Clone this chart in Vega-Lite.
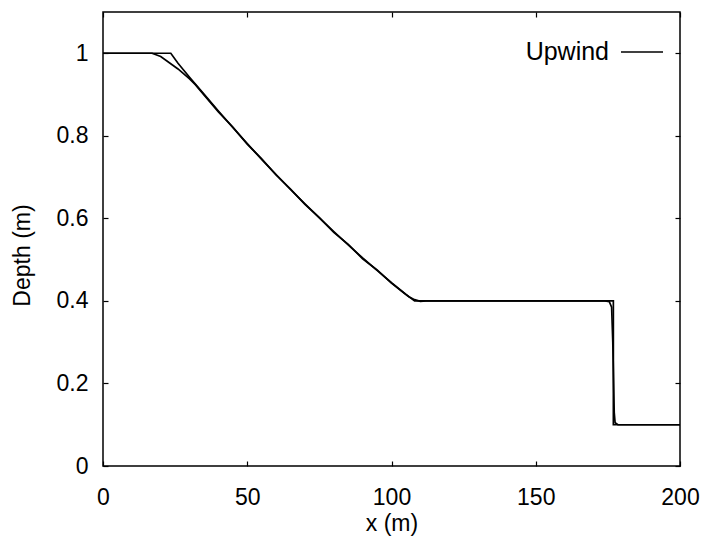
{
  "$schema": "https://vega.github.io/schema/vega-lite/v6.json",
  "autosize": {"type": "none"},
  "padding": {"left": 103, "top": 12, "right": 22, "bottom": 82},
  "width": 577,
  "height": 454,
  "background": "white",
  "config": {
    "view": {"stroke": "black", "strokeWidth": 1.5},
    "axis": {
      "domain": false,
      "grid": false,
      "tickColor": "black",
      "tickWidth": 1.2,
      "tickSize": -5,
      "labelFlush": false,
      "labelFont": "Liberation Sans",
      "labelFontSize": 23,
      "labelColor": "black",
      "titleFont": "Liberation Sans",
      "titleFontSize": 23,
      "titleFontWeight": "normal",
      "titleColor": "black"
    },
    "legend": {
      "labelFont": "Liberation Sans",
      "labelFontSize": 25,
      "labelColor": "black"
    }
  },
  "datasets": {
    "exact": [
      {"i": 0, "x": 0, "h": 1},
      {"i": 1, "x": 23.5, "h": 1},
      {"i": 2, "x": 26, "h": 0.976},
      {"i": 3, "x": 30, "h": 0.942},
      {"i": 4, "x": 35, "h": 0.901},
      {"i": 5, "x": 40, "h": 0.86},
      {"i": 6, "x": 45, "h": 0.82},
      {"i": 7, "x": 50, "h": 0.781},
      {"i": 8, "x": 55, "h": 0.743},
      {"i": 9, "x": 60, "h": 0.706},
      {"i": 10, "x": 65, "h": 0.67},
      {"i": 11, "x": 70, "h": 0.635},
      {"i": 12, "x": 75, "h": 0.601},
      {"i": 13, "x": 80, "h": 0.568},
      {"i": 14, "x": 85, "h": 0.536},
      {"i": 15, "x": 90, "h": 0.504},
      {"i": 16, "x": 95, "h": 0.474},
      {"i": 17, "x": 100, "h": 0.444},
      {"i": 18, "x": 105, "h": 0.416},
      {"i": 19, "x": 108, "h": 0.4},
      {"i": 20, "x": 176.9, "h": 0.4},
      {"i": 21, "x": 176.9, "h": 0.1},
      {"i": 22, "x": 200, "h": 0.1}
    ],
    "upwind": [
      {"i": 0, "x": 0, "h": 1, "series": "Upwind"},
      {"i": 1, "x": 17, "h": 1, "series": "Upwind"},
      {"i": 2, "x": 20, "h": 0.992, "series": "Upwind"},
      {"i": 3, "x": 23, "h": 0.977, "series": "Upwind"},
      {"i": 4, "x": 26, "h": 0.962, "series": "Upwind"},
      {"i": 5, "x": 28, "h": 0.95, "series": "Upwind"},
      {"i": 6, "x": 30, "h": 0.938, "series": "Upwind"},
      {"i": 7, "x": 32, "h": 0.924, "series": "Upwind"},
      {"i": 8, "x": 35, "h": 0.899, "series": "Upwind"},
      {"i": 9, "x": 40, "h": 0.858, "series": "Upwind"},
      {"i": 10, "x": 45, "h": 0.821, "series": "Upwind"},
      {"i": 11, "x": 50, "h": 0.78, "series": "Upwind"},
      {"i": 12, "x": 55, "h": 0.744, "series": "Upwind"},
      {"i": 13, "x": 60, "h": 0.705, "series": "Upwind"},
      {"i": 14, "x": 65, "h": 0.671, "series": "Upwind"},
      {"i": 15, "x": 70, "h": 0.634, "series": "Upwind"},
      {"i": 16, "x": 75, "h": 0.602, "series": "Upwind"},
      {"i": 17, "x": 80, "h": 0.566, "series": "Upwind"},
      {"i": 18, "x": 85, "h": 0.537, "series": "Upwind"},
      {"i": 19, "x": 90, "h": 0.502, "series": "Upwind"},
      {"i": 20, "x": 95, "h": 0.475, "series": "Upwind"},
      {"i": 21, "x": 100, "h": 0.443, "series": "Upwind"},
      {"i": 22, "x": 104, "h": 0.421, "series": "Upwind"},
      {"i": 23, "x": 106, "h": 0.41, "series": "Upwind"},
      {"i": 24, "x": 108, "h": 0.403, "series": "Upwind"},
      {"i": 25, "x": 110, "h": 0.399, "series": "Upwind"},
      {"i": 26, "x": 112, "h": 0.4, "series": "Upwind"},
      {"i": 27, "x": 174, "h": 0.4, "series": "Upwind"},
      {"i": 28, "x": 175.5, "h": 0.398, "series": "Upwind"},
      {"i": 29, "x": 176.3, "h": 0.385, "series": "Upwind"},
      {"i": 30, "x": 176.7, "h": 0.3, "series": "Upwind"},
      {"i": 31, "x": 177, "h": 0.2, "series": "Upwind"},
      {"i": 32, "x": 177.2, "h": 0.13, "series": "Upwind"},
      {"i": 33, "x": 177.5, "h": 0.105, "series": "Upwind"},
      {"i": 34, "x": 178.5, "h": 0.1, "series": "Upwind"},
      {"i": 35, "x": 200, "h": 0.1, "series": "Upwind"}
    ]
  },
  "layer": [
    {
      "data": {"name": "exact"},
      "mark": {"type": "line", "color": "black", "strokeWidth": 1.7},
      "encoding": {
        "x": {
          "field": "x", "type": "quantitative",
          "scale": {"domain": [0, 200], "nice": false},
          "axis": {"values": [0, 50, 100, 150, 200], "format": "d", "labelPadding": 25, "title": "x (m)", "titleY": 46, "titleBaseline": "top"}
        },
        "y": {
          "field": "h", "type": "quantitative",
          "scale": {"domain": [0, 1.1], "nice": false, "zero": false},
          "axis": {"values": [0, 0.2, 0.4, 0.6, 0.8, 1], "format": "~g", "labelPadding": 20, "title": "Depth (m)", "titleX": -81, "titleY": 243, "titleBaseline": "middle", "titleAngle": -90}
        },
        "order": {"field": "i", "type": "quantitative"}
      }
    },
    {
      "data": {"name": "upwind"},
      "mark": {"type": "line", "strokeWidth": 1.7},
      "encoding": {
        "x": {"field": "x", "type": "quantitative", "axis": null},
        "y": {"field": "h", "type": "quantitative", "axis": null},
        "order": {"field": "i", "type": "quantitative"},
        "color": {
          "field": "series", "type": "nominal",
          "scale": {"range": ["black"]},
          "legend": {
            "title": null,
            "orient": "none",
            "legendX": 517,
            "legendY": 18,
            "padding": 0,
            "symbolType": "stroke",
            "symbolSize": 1764,
            "symbolStrokeWidth": 1.5,
            "symbolStrokeColor": "black",
            "labelAlign": "right",
            "labelOffset": -55
          }
        }
      }
    },
    {
      "data": {"name": "exact"},
      "mark": {"type": "line", "opacity": 0},
      "encoding": {
        "x": {"field": "x", "type": "quantitative", "axis": {"orient": "top", "values": [0, 50, 100, 150, 200], "labels": false, "title": null}},
        "y": {"field": "h", "type": "quantitative", "axis": {"orient": "right", "values": [0, 0.2, 0.4, 0.6, 0.8, 1], "labels": false, "title": null}},
        "order": {"field": "i", "type": "quantitative"}
      }
    }
  ],
  "resolve": {"axis": {"x": "independent", "y": "independent"}}
}
